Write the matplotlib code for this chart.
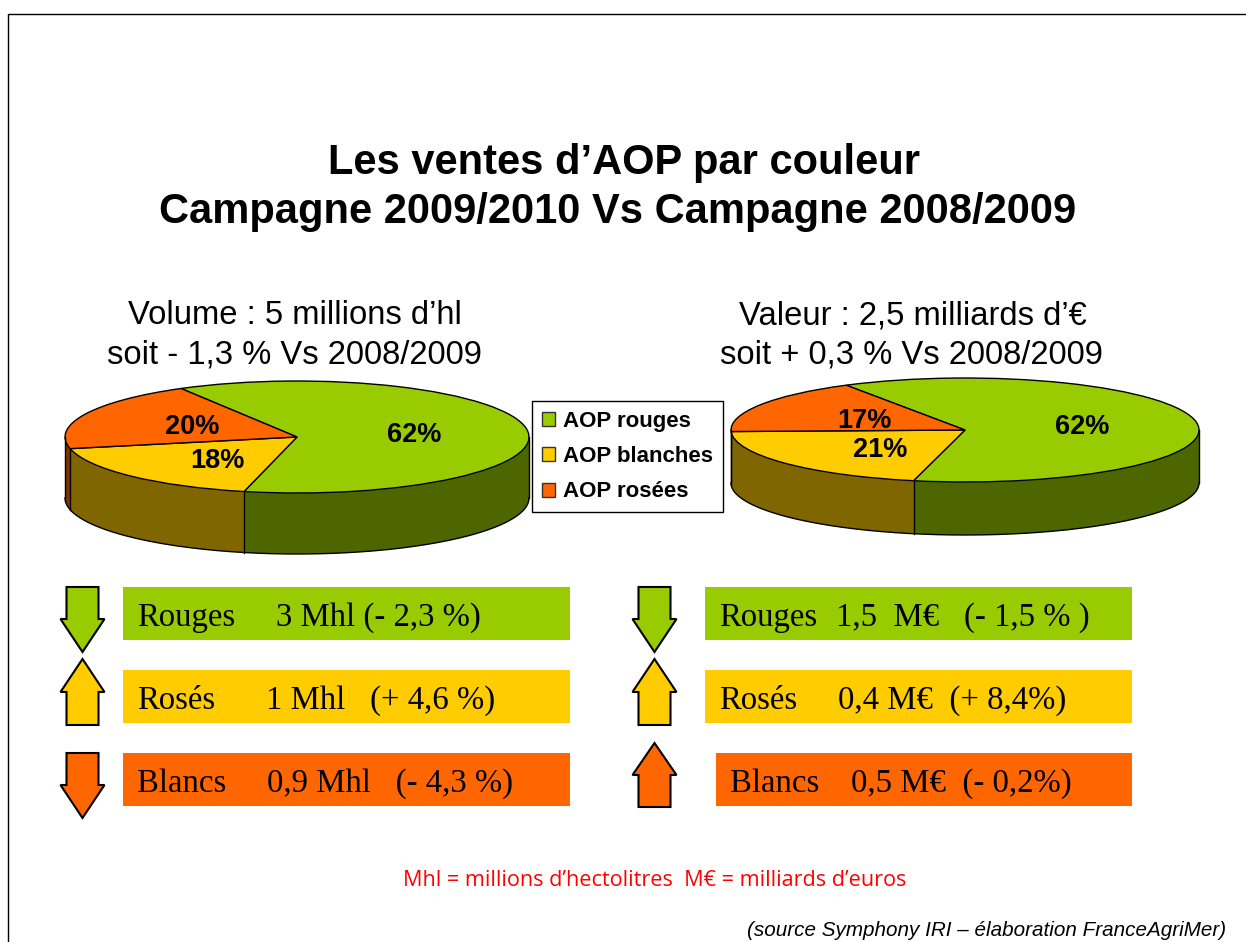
import matplotlib
matplotlib.use('Agg')
import matplotlib.pyplot as plt
import numpy as np
from matplotlib.patches import Patch, Polygon, Rectangle

W, H = 1246, 942

labels = ['AOP rouges', 'AOP blanches', 'AOP rosées']
colors = ['#99cc00', '#ffcc00', '#ff6600']
side_colors = ['#4d6600', '#806600', '#803300']
volume = [62, 18, 20]
valeur = [62, 21, 17]

rows = ['Rouges', 'Rosés', 'Blancs']
left_rows = ['3 Mhl (- 2,3 %)', '1 Mhl   (+ 4,6 %)', '0,9 Mhl   (- 4,3 %)']
right_rows = ['1,5  M€   (- 1,5 % )', '0,4 M€  (+ 8,4%)', '0,5 M€  (- 0,2%)']
left_dirs = ['down', 'up', 'down']
right_dirs = ['down', 'up', 'up']

plt.rcParams['font.family'] = 'Liberation Sans'
fig = plt.figure(figsize=(W / 100, H / 100), dpi=100, facecolor='white')


def pie3d(vals, cx, cy, rx, ry, depth, start):
    ax = fig.add_axes([(cx - rx - 4) / W, 1 - (cy + ry + depth + 4) / H,
                       (2 * rx + 8) / W, (2 * ry + depth + 8) / H])
    d = depth / ry
    for k in range(depth, 0, -1):
        ax.pie(vals, colors=side_colors, startangle=start, counterclock=False,
               center=(0, -k / ry), radius=1, wedgeprops={'linewidth': 0})
    top, _ = ax.pie(vals, colors=colors, startangle=start, counterclock=False,
                    wedgeprops={'linewidth': 1, 'edgecolor': 'black'})
    ax.set_aspect('auto')
    ax.set_xlim(-(rx + 4) / rx, (rx + 4) / rx)
    ax.set_ylim(-1 - d - 4 / ry, 1 + 4 / ry)
    ax.axis('off')
    # outline of the bottom and of the sides
    t = np.radians(np.linspace(180, 360, 200))
    ax.plot(np.cos(t), np.sin(t) - d, color='black', lw=1, zorder=5)
    for x in (-1, 1):
        ax.plot([x, x], [0, -d], color='black', lw=1, zorder=5)
    for w in top:
        a = np.radians(w.theta1)
        if np.sin(a) < 0:
            ax.plot([np.cos(a)] * 2, [np.sin(a), np.sin(a) - d], color='black', lw=1, zorder=5)
    return ax


pie3d(volume, 297, 437, 232, 56, 61, 120)
pie3d(valeur, 965, 430, 234, 52, 53, 120.5)

# overlay in pixel units
bg = fig.add_axes([0, 0, 1, 1], zorder=10)
bg.set_xlim(0, W)
bg.set_ylim(H, 0)
bg.axis('off')
bg.patch.set_alpha(0)

# slide border: left and top only, the rest is cut off
bg.plot([8, 8, W], [H, 14, 14], color='black', lw=1)

bg.text(624, 163, 'Les ventes d’AOP par couleur', ha='center', va='center',
        fontsize=30, fontweight='bold')
bg.text(618, 212, 'Campagne 2009/2010 Vs Campagne 2008/2009', ha='center', va='center',
        fontsize=30, fontweight='bold')

bg.text(295, 316, 'Volume : 5 millions d’hl', ha='center', va='center', fontsize=23.6)
bg.text(294, 355, 'soit - 1,3 % Vs 2008/2009', ha='center', va='center', fontsize=23.6)
bg.text(913, 316, 'Valeur : 2,5 milliards d’€', ha='center', va='center', fontsize=23.6)
bg.text(911, 355, 'soit + 0,3 % Vs 2008/2009', ha='center', va='center', fontsize=23.6)

for v, x, y in zip(volume, [414, 217, 192], [435, 461, 427]):
    bg.text(x, y, f'{v}%', ha='center', va='center', fontsize=19.5, fontweight='bold')
for v, x, y in zip(valeur, [1082, 880, 864], [427, 450, 421]):
    bg.text(x, y, f'{v}%', ha='center', va='center', fontsize=19.5, fontweight='bold')


def arrow(cx, top, bottom, base, direction, color):
    # base is the y where the head starts
    if direction == 'down':
        pts = [(cx - 16, top), (cx + 16, top), (cx + 16, base), (cx + 22, base),
               (cx, bottom), (cx - 22, base), (cx - 16, base)]
    else:
        pts = [(cx - 16, bottom), (cx + 16, bottom), (cx + 16, base), (cx + 22, base),
               (cx, top), (cx - 22, base), (cx - 16, base)]
    bg.add_patch(Polygon(pts, closed=True, facecolor=color, edgecolor='black', lw=1.5))


band_y = [587, 670, 753]
left_x = [276, 266, 267]
right_x = [836, 838, 851]
right_start = [705, 705, 716]
right_name = [719, 719, 730]
arrow_left = [(587, 652, 619), (659, 725, 692), (753, 818, 785)]
arrow_right = [(587, 652, 619), (659, 725, 692), (743, 807, 775)]
for i in range(3):
    bg.add_patch(Rectangle((123, band_y[i]), 447, 53, facecolor=colors[i], edgecolor='none'))
    bg.add_patch(Rectangle((right_start[i], band_y[i]), 1132 - right_start[i], 53,
                           facecolor=colors[i], edgecolor='none'))
    ym = band_y[i] + 31
    bg.text(137, ym, rows[i], family='Liberation Serif', fontsize=23.6, va='center')
    bg.text(left_x[i], ym, left_rows[i], family='Liberation Serif', fontsize=23.6, va='center')
    bg.text(right_name[i], ym, rows[i], family='Liberation Serif', fontsize=23.6, va='center')
    bg.text(right_x[i], ym, right_rows[i], family='Liberation Serif', fontsize=23.6, va='center')
    t, b, m = arrow_left[i]
    arrow(82.5, t, b, m, left_dirs[i], colors[i])
    t, b, m = arrow_right[i]
    arrow(654.5, t, b, m, right_dirs[i], colors[i])

bg.text(654.5, 880, 'Mhl = millions d’hectolitres  M€ = milliards d’euros', color='#ff0000',
        ha='center', va='center', family='Open Sans', fontsize=15.6)
bg.text(1226, 931, '(source Symphony IRI – élaboration FranceAgriMer)', style='italic',
        ha='right', va='center', fontsize=14.9)

handles = [Patch(facecolor=c, edgecolor='#333333', label=l) for c, l in zip(colors, labels)]
leg = fig.legend(handles=handles, loc='center', bbox_to_anchor=(627.5 / W, 1 - 456.5 / H),
                 fancybox=False, framealpha=1, edgecolor='black', ncol=1,
                 prop={'family': 'Liberation Sans', 'weight': 'bold', 'size': 16},
                 handlelength=0.6, handleheight=0.6, handletextpad=0.35,
                 labelspacing=0.65, borderpad=0.45, borderaxespad=0)
leg.set_zorder(20)
leg.get_frame().set_linewidth(1)

fig.savefig('out.png', dpi=100)
